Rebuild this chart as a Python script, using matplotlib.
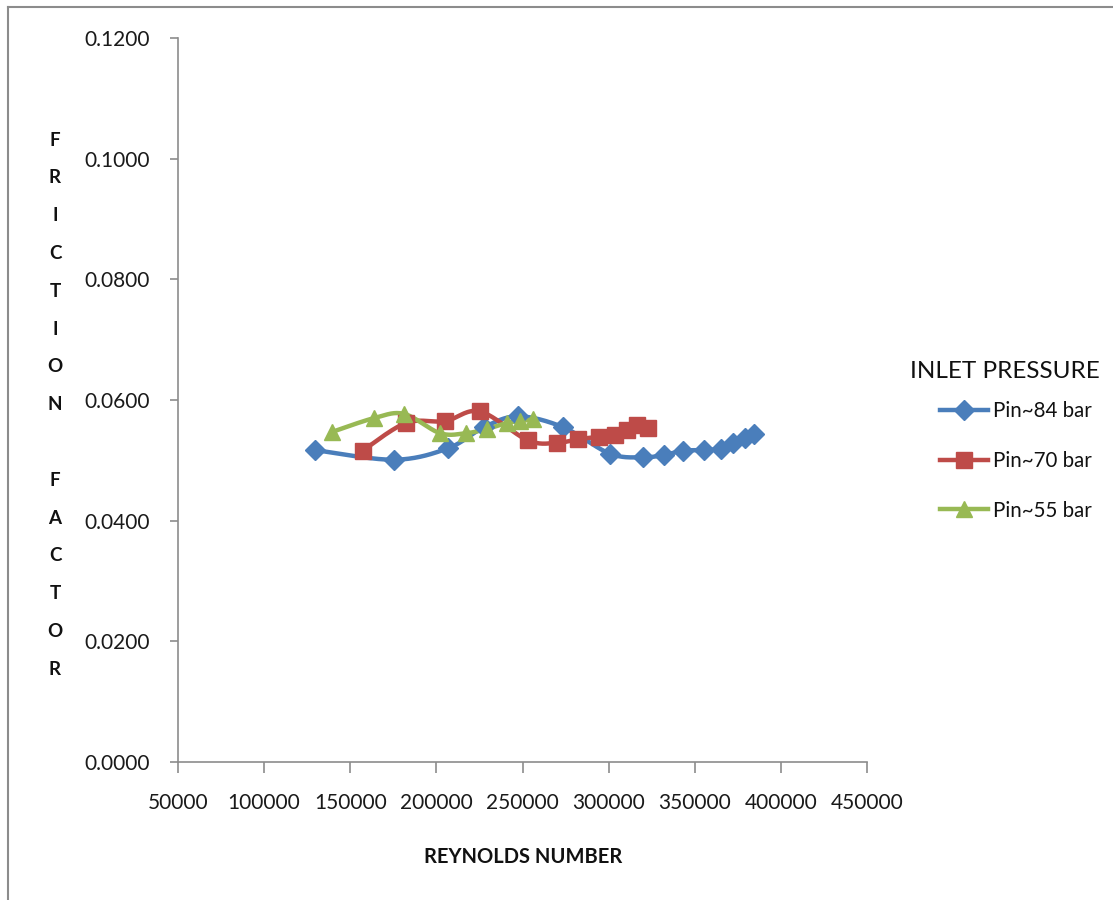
import numpy as np
import matplotlib
matplotlib.use("Agg")
import matplotlib.pyplot as plt
from matplotlib.lines import Line2D

# Reynolds number vs friction factor, three inlet pressures
re_84 = [129500, 175400, 206800, 227700, 247400, 273500, 300800, 320000,
         332200, 343200, 355400, 365100, 372300, 379200, 384500]
f_84 = [0.0517, 0.0501, 0.0520, 0.0555, 0.0573, 0.0555, 0.0511, 0.0505,
        0.0509, 0.0516, 0.0517, 0.0519, 0.0528, 0.0537, 0.0543]

re_70 = [157200, 182400, 205000, 225300, 253200, 270000, 282300, 294400,
         303700, 310700, 316500, 322900]
f_70 = [0.0516, 0.0562, 0.0565, 0.0581, 0.0533, 0.0529, 0.0535, 0.0539,
        0.0542, 0.0550, 0.0559, 0.0553]

re_55 = [139400, 163800, 181200, 202100, 217200, 229400, 241000, 248600, 256100]
f_55 = [0.0547, 0.0570, 0.0577, 0.0545, 0.0545, 0.0552, 0.0562, 0.0565, 0.0568]

series = [
    ("Pin~84 bar", re_84, f_84, "#4A7EBB", "D", 10),
    ("Pin~70 bar", re_70, f_70, "#BE4B48", "s", 11.5),
    ("Pin~55 bar", re_55, f_55, "#98B954", "^", 12),
]

x_ticks = [50000, 100000, 150000, 200000, 250000, 300000, 350000, 400000, 450000]
y_ticks = [0.0, 0.02, 0.04, 0.06, 0.08, 0.10, 0.12]

FONT = "Lato"
plt.rcParams["font.family"] = [FONT, "DejaVu Sans"]

W, H = 1113, 900
fig = plt.figure(figsize=(W / 100, H / 100), dpi=100)
ax = fig.add_axes([178 / W, 1 - 762 / H, 689 / W, 724 / H])

x_range = (50000, 450000)
y_range = (0.0, 0.12)


def smooth(xs, ys, n=30):
    """Catmull-Rom curve through the points, computed in axes-pixel space."""
    sx = 689 / (x_range[1] - x_range[0])
    sy = 724 / (y_range[1] - y_range[0])
    p = np.column_stack([(np.asarray(xs) - x_range[0]) * sx,
                         (np.asarray(ys) - y_range[0]) * sy])
    pts = np.vstack([p[0], p, p[-1]])
    out = []
    for i in range(1, len(pts) - 2):
        p0, p1, p2, p3 = pts[i - 1], pts[i], pts[i + 1], pts[i + 2]
        t = np.linspace(0, 1, n, endpoint=False)[:, None]
        seg = 0.5 * ((2 * p1) + (-p0 + p2) * t
                     + (2 * p0 - 5 * p1 + 4 * p2 - p3) * t ** 2
                     + (-p0 + 3 * p1 - 3 * p2 + p3) * t ** 3)
        out.append(seg)
    out.append(p[-1][None, :])
    c = np.vstack(out)
    return c[:, 0] / sx + x_range[0], c[:, 1] / sy + y_range[0]


handles = []
for label, xs, ys, color, marker, ms in series:
    cx, cy = smooth(xs, ys)
    ax.plot(cx, cy, color=color, lw=3.2, solid_capstyle="round", zorder=2)
    ax.plot(xs, ys, linestyle="none", marker=marker, ms=ms, color=color,
            markeredgecolor=color, zorder=3)
    handles.append(Line2D([0], [0], color=color, lw=3.2, marker=marker,
                          ms=ms, markeredgecolor=color, label=label))

ax.set_xlim(*x_range)
ax.set_ylim(*y_range)
ax.set_xticks(x_ticks)
ax.set_xticklabels([str(v) for v in x_ticks])
ax.set_yticks(y_ticks)
ax.set_yticklabels([f"{v:.4f}" for v in y_ticks])

for s in ("top", "right"):
    ax.spines[s].set_visible(False)
for s in ("left", "bottom"):
    ax.spines[s].set_color("#8c8c8c")
    ax.spines[s].set_linewidth(1.2)
ax.tick_params(axis="both", colors="#8c8c8c", labelcolor="#1a1a1a",
               labelsize=15, width=1.2)
ax.tick_params(axis="x", length=8, pad=14)
ax.tick_params(axis="y", length=6, pad=14)

# Stacked vertical axis title
letters = list("FRICTION") + [" "] + list("FACTOR")
top_y, step = 140, 37.8
for i, ch in enumerate(letters):
    fig.text(55 / W, 1 - (top_y + i * step) / H, ch, ha="center", va="center",
             fontsize=13.5, fontweight="bold", color="#111111")

fig.text(523 / W, 1 - 857 / H, "REYNOLDS NUMBER", ha="center", va="center",
         fontsize=14.5, fontweight="bold", color="#111111")

# Legend with its heading
fig.text(910 / W, 1 - 371 / H, "INLET PRESSURE", ha="left", va="center",
         fontsize=17.5, color="#111111")
leg = fig.legend(handles=handles, loc="upper left",
                 bbox_to_anchor=(940 / W, 1 - 401 / H), frameon=False,
                 fontsize=14.8, handlelength=2.35, handletextpad=0.25,
                 labelspacing=1.45, borderaxespad=0, borderpad=0)
for t in leg.get_texts():
    t.set_color("#111111")

# Outer chart frame
fig.add_artist(Line2D([8 / W, 8 / W], [0, 1 - 7 / H], transform=fig.transFigure,
                      color="#8c8c8c", lw=1.5))
fig.add_artist(Line2D([8 / W, 1], [1 - 7 / H, 1 - 7 / H], transform=fig.transFigure,
                      color="#8c8c8c", lw=1.5))

fig.savefig("out.png", dpi=100)
